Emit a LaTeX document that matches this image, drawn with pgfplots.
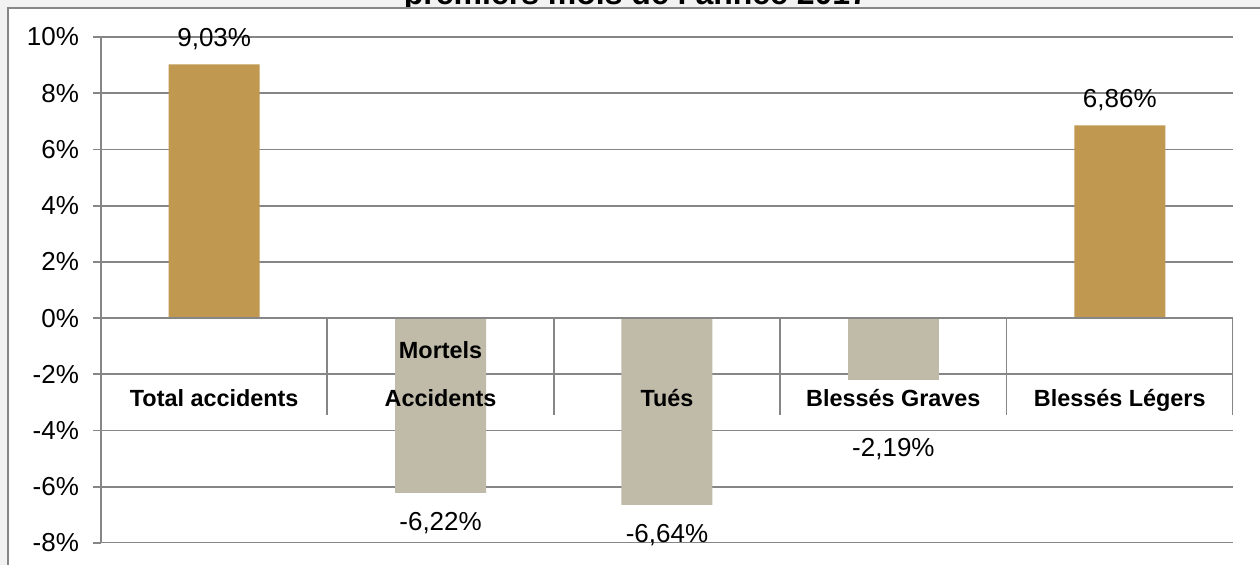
\documentclass[border=0pt]{standalone}
\usepackage{pgfplots}
\pgfplotsset{compat=1.18}
\usepackage{fontspec}
\setmainfont{Liberation Sans}

\definecolor{gold}{RGB}{192,152,80}
\definecolor{taupe}{RGB}{192,186,168}
\definecolor{gridgray}{RGB}{134,134,134}
\definecolor{bggray}{RGB}{242,242,242}

\begin{document}
\begin{tikzpicture}
\path[use as bounding box] (-50.5pt,-11pt) rectangle (579.5pt,271.5pt);
\clip (-50.5pt,-11pt) rectangle (579.5pt,271.5pt);
\fill[bggray] (-50.5pt,-11pt) rectangle (579.5pt,271.5pt);
% title, mostly cut off at the top
\node[font=\bfseries\fontsize{16}{19}\selectfont, anchor=base, inner sep=0pt]
  at (267.5pt,269.3pt) {premiers mois de l'année 2017};
\filldraw[fill=white, draw=gridgray, line width=0.8pt] (-46.5pt,-30pt) rectangle (600pt,267.5pt);

\begin{axis}[
  at={(0,0)}, anchor=south west,
  scale only axis, width=566pt, height=253pt,
  xmin=-0.5, xmax=4.5, ymin=-8, ymax=10,
  axis on top,
  axis y line*=left, axis x line*=middle,
  hide obscured y ticks=false,
  axis line style={gridgray, line width=0.9pt},
  ytick={-8,-6,...,10},
  yticklabel={\pgfmathprintnumber{\tick}\%},
  yticklabel style={font=\fontsize{13}{15}\selectfont, xshift=-3.5pt},
  tick align=outside, major tick length=4pt,
  y tick style={gridgray, line width=0.9pt},
  x tick style={draw=none},
  xtick={0,1,2,3,4},
  xticklabels={Total accidents,{Mortels\\Accidents},Tués,Blessés Graves,Blessés Légers},
  xticklabel style={font=\bfseries\fontsize{11.7}{24}\selectfont, align=center,
    anchor=south, text depth=0pt, inner sep=0pt, yshift=-40.5pt},
  /pgf/number format/assume math mode=true,
  nodes near coords={\pgfmathprintnumber[fixed,zerofill,precision=2,use comma]{\pgfplotspointmeta}\%},
]
% horizontal grid, drawn first so the bars cover it
\pgfplotsinvokeforeach{-8,-6,-4,-2,2,4,6,8,10}{
  \draw[gridgray, line width=0.9pt] (axis cs:-0.5,#1) -- (axis cs:4.5,#1);
}
% gains
\addplot[ybar, bar width=45.5pt, bar shift=0pt, fill=gold, draw=none,
  every node near coord/.append style={font=\fontsize{13}{15}\selectfont, black,
    text depth=0pt, inner sep=0pt, yshift=8.5pt}]
  coordinates {(0,9.03) (4,6.86)};
% drops
\addplot[ybar, bar width=45.5pt, bar shift=0pt, fill=taupe, draw=none,
  every node near coord/.append style={font=\fontsize{13}{15}\selectfont, black,
    text height=9.3pt, inner sep=0pt, yshift=-9.5pt}]
  coordinates {(1,-6.22) (2,-6.64)};
\addplot[ybar, bar width=45.5pt, bar shift=0pt, fill=taupe, draw=none,
  every node near coord/.append style={font=\fontsize{13}{15}\selectfont, black,
    text height=9.3pt, inner sep=0pt, yshift=-29pt}]
  coordinates {(3,-2.19)};
% separators under the zero line
\pgfplotsinvokeforeach{-0.5,0.5,1.5,2.5,3.5,4.5}{
  \draw[gridgray, line width=0.9pt] (axis cs:#1,0) -- ([yshift=-48.5pt]axis cs:#1,0);
}
\end{axis}
\end{tikzpicture}
\end{document}
